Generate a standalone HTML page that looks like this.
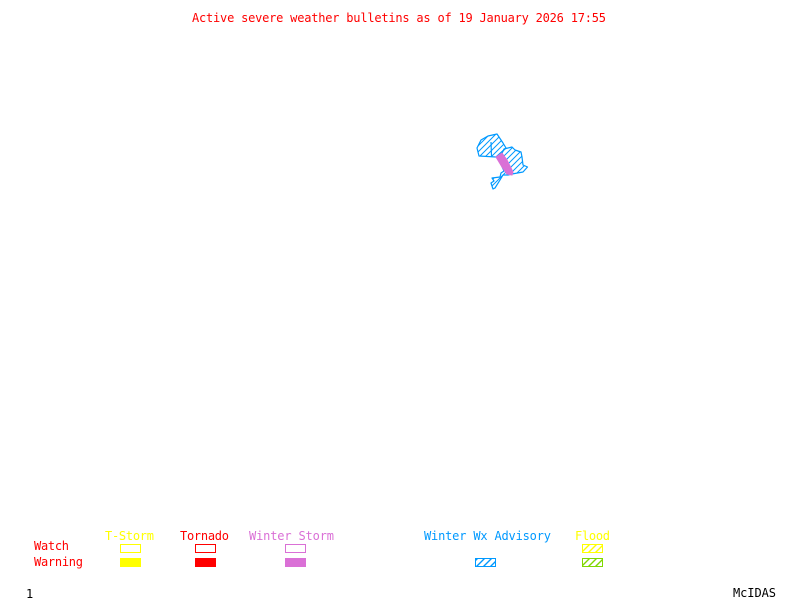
<!DOCTYPE html>
<html><head><meta charset="utf-8"><style>
html,body{margin:0;padding:0;background:#fff;width:800px;height:600px;overflow:hidden}
svg{display:block}
text{font-family:"DejaVu Sans Mono","Liberation Mono",monospace;font-size:12px;white-space:pre}
</style></head><body>
<svg width="800" height="600" viewBox="0 0 800 600" xmlns="http://www.w3.org/2000/svg">
<defs>
<pattern id="hb" width="6" height="6" patternUnits="userSpaceOnUse"><path d="M-1 7L7 -1M-1 1L1 -1M5 7L7 5" stroke="#0099ff" stroke-width="1" fill="none"/></pattern>
<pattern id="hy" width="7" height="7" patternUnits="userSpaceOnUse"><path d="M-1 8L8 -1M-1 1L1 -1M6 8L8 6" stroke="#ffff00" stroke-width="1.4" fill="none"/></pattern>
<pattern id="hg" width="7" height="7" patternUnits="userSpaceOnUse"><path d="M-1 8L8 -1M-1 1L1 -1M6 8L8 6" stroke="#7fd800" stroke-width="1.4" fill="none"/></pattern>
<pattern id="hc" width="7" height="7" patternUnits="userSpaceOnUse"><path d="M-1 8L8 -1M-1 1L1 -1M6 8L8 6" stroke="#0099ff" stroke-width="1.4" fill="none"/></pattern>
</defs>
<text x="192" y="22" fill="#ff0000" textLength="414" lengthAdjust="spacing">Active severe weather bulletins as of 19 January 2026 17:55</text>

<g stroke="#0099ff" stroke-width="1.2" fill="url(#hb)" stroke-linejoin="round">
<path d="M477 148L481 140L488 136L497 134L499 137L503 143L506 148L496 157L479 156Z"/>
<path d="M491 142L491.500 156" fill="none"/>
<path d="M504 149L512 147L515 150L521 152L522 157L523 165L527.500 167L523 172L512 174L508 175L503 175L500 180L495 188L493 189L491 183L494 181L492 178L500 177L501 173L504 171L499 160Z"/>
</g>
<path d="M496 157L502 153L507 160L513 172L512 175L507 174L502 167Z" fill="#da70d6" stroke="#da70d6" stroke-width="1"/>

<text x="105" y="540" fill="#ffff00" textLength="49">T-Storm</text>
<text x="180" y="540" fill="#ff0000" textLength="49">Tornado</text>
<text x="249" y="540" fill="#da70d6" textLength="85">Winter Storm</text>
<text x="424" y="540" fill="#0099ff" textLength="127">Winter Wx Advisory</text>
<text x="575" y="540" fill="#ffff00" textLength="35">Flood</text>
<text x="34" y="550" fill="#ff0000" textLength="35">Watch</text>
<text x="34" y="566" fill="#ff0000" textLength="49">Warning</text>

<g shape-rendering="crispEdges" stroke-width="1">
<rect x="120.500" y="544.500" width="20" height="8" fill="none" stroke="#ffff00"/>
<rect x="120" y="558" width="21" height="9" fill="#ffff00"/>
<rect x="195.500" y="544.500" width="20" height="8" fill="none" stroke="#ff0000"/>
<rect x="195" y="558" width="21" height="9" fill="#ff0000"/>
<rect x="285.500" y="544.500" width="20" height="8" fill="none" stroke="#da70d6"/>
<rect x="285" y="558" width="21" height="9" fill="#da70d6"/>
<rect x="475.500" y="558.500" width="20" height="8" fill="url(#hc)" stroke="#0099ff"/>
<rect x="582.500" y="544.500" width="20" height="8" fill="url(#hy)" stroke="#ffff00"/>
<rect x="582.500" y="558.500" width="20" height="8" fill="url(#hg)" stroke="#7fd800"/>
</g>

<text x="26" y="598" fill="#000">1</text>
<text x="733" y="597" fill="#000" textLength="43">McIDAS</text>
</svg>
</body></html>
